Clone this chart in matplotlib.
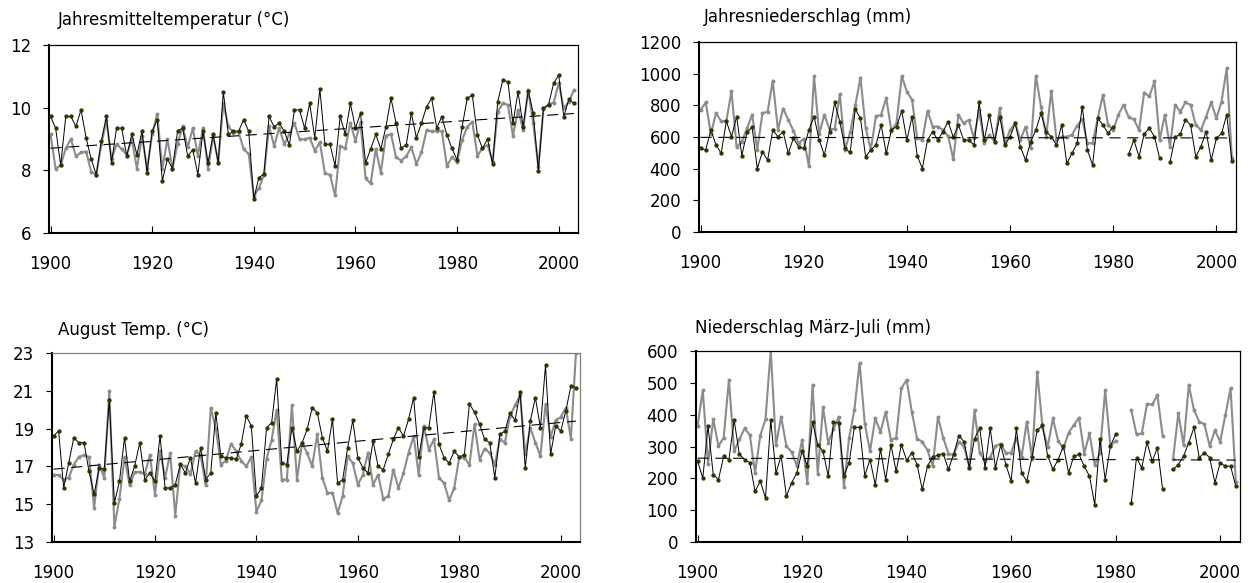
import numpy as np
import matplotlib
matplotlib.use("Agg")
import matplotlib.pyplot as plt

plt.rcParams['font.family'] = ['DejaVu Sans']

years = np.arange(1900, 2004)
nan = np.nan

# Jahresmitteltemperatur (°C)
temp_year_a = [9.72, 9.35, 8.16, 9.72, 9.72, 9.4, 9.93, 9.04, 8.36, 7.86, 8.94, 9.72, 8.24, 9.35, 9.35, 8.45, 9.15, 8.5, 9.25, 7.93,
               9.25, 9.61, 7.66, 8.36, 8.05, 9.25, 9.35, 8.45, 8.66, 7.86, 9.25, 8.24, 9.15, 8.24, 10.5, 9.15, 9.25, 9.25, 9.61, 9.25,
               7.09, 7.77, 7.88, 9.72, 9.39, 9.51, 9.25, 8.81, 9.93, 9.93, 9.35, 10.14, 9.04, 10.6, 8.83, 8.83, 8.14, 9.72, 9.15, 10.14,
               9.35, 9.82, 8.24, 8.68, 9.15, 8.68, 9.39, 10.3, 9.51, 8.71, 8.81, 9.82, 9.04, 9.51, 10.03, 10.3, 9.35, 9.71, 9.13, 8.7,
               8.33, 9.39, 10.3, 10.4, 9.13, 8.7, 9.0, 8.2, 10.19, 10.88, 10.83, 9.5, 10.51, 9.39, 10.54, 9.82, 7.99, 9.98, 10.09, 10.78,
               11.04, 9.71, 10.27, 10.14]
temp_year_b = [9.15, 8.05, 8.16, 8.7, 9.0, 8.45, 8.57, 8.6, 7.95, 7.86, 8.83, 9.6, 8.36, 8.83, 8.68, 8.5, 9.0, 8.05, 9.1, 8.05,
               9.15, 9.8, 8.05, 9.0, 8.05, 8.85, 9.4, 8.73, 9.35, 8.47, 9.35, 8.05, 9.1, 8.26, 10.14, 9.4, 9.2, 9.22, 8.68, 8.52,
               7.17, 7.43, 7.86, 9.4, 8.78, 9.35, 8.83, 9.15, 9.51, 8.99, 8.99, 9.04, 8.63, 8.89, 7.9, 7.86, 7.2, 8.78, 8.7, 9.51,
               8.94, 9.53, 7.74, 7.58, 8.68, 7.93, 9.11, 9.15, 8.42, 8.31, 8.45, 8.73, 8.21, 8.57, 9.28, 9.25, 9.25, 9.25, 8.14, 8.43,
               8.27, 8.97, 9.39, 9.55, 8.47, 8.7, 8.81, 8.27, 9.87, 10.14, 10.09, 9.1, 9.93, 9.29, 10.56, 9.5, 8.11, 9.95, 10.11, 10.16,
               10.78, 9.98, 10.19, 10.56]

# Jahresniederschlag (mm)
prec_year_a = [528, 518, 644, 549, 497, 700, 602, 729, 482, 630, 661, 401, 507, 454, 644, 602, 634, 497, 592, 539,
               528, 644, 729, 581, 486, 634, 818, 697, 528, 503, 775, 718, 475, 518, 549, 676, 497, 644, 666, 765,
               581, 729, 482, 401, 581, 634, 581, 634, 697, 598, 676, 581, 581, 549, 818, 581, 740, 570, 729, 549,
               602, 687, 539, 454, 570, 644, 750, 634, 602, 549, 676, 433, 497, 560, 792, 518, 423, 718, 676, 623,
               665, nan, nan, 492, 581, 475, 619, 655, 602, 465, nan, 440, 598, 619, 708, 676, 475, 539, 634, 454,
               592, 623, 740, 450]
prec_year_b = [771, 818, 620, 750, 700, 700, 890, 535, 570, 655, 740, 520, 750, 760, 955, 645, 780, 710, 640, 560,
               590, 415, 985, 620, 740, 650, 650, 870, 520, 630, 800, 975, 660, 520, 730, 740, 845, 640, 690, 985,
               887, 835, 592, 581, 765, 666, 666, 644, 606, 460, 740, 687, 708, 592, 771, 560, 613, 570, 782, 560,
               644, 687, 581, 666, 528, 987, 792, 602, 892, 581, 602, 602, 613, 672, 712, 560, 560, 718, 866, 676,
               644, 740, 803, 725, 712, 644, 881, 856, 951, 581, 740, 539, 803, 761, 818, 803, 676, 644, 729, 818,
               718, 824, 1035, 465]

# August Temp. (°C)
temp_aug_a = [18.61, 18.87, 15.86, 17.18, 18.52, 18.26, 18.26, 16.74, 15.52, 16.92, 16.84, 20.5, 15.06, 16.21, 18.52, 16.21, 17.02, 18.26, 16.3, 16.65,
              16.21, 18.61, 15.86, 15.86, 16.03, 17.11, 16.65, 17.46, 16.12, 18.0, 16.3, 16.65, 19.84, 17.53, 17.46, 17.46, 17.37, 18.17, 19.67, 19.14,
              15.42, 15.86, 19.05, 19.31, 21.62, 17.18, 17.1, 19.05, 17.81, 18.24, 18.96, 20.1, 19.84, 18.52, 17.81, 19.49, 16.12, 16.3, 18.0, 19.44,
              17.46, 16.92, 16.65, 18.34, 17.0, 16.83, 17.64, 18.43, 19.05, 18.61, 19.49, 20.64, 17.5, 19.05, 19.05, 20.94, 18.17, 17.46, 17.18, 17.8,
              17.5, 17.62, 20.3, 19.88, 19.23, 18.43, 18.26, 16.39, 18.7, 18.87, 19.84, 19.44, 20.94, 16.92, 19.4, 20.64, 19.05, 22.35, 17.64, 19.14,
              18.87, 19.93, 21.25, 21.17]
temp_aug_b = [16.56, 16.53, 16.3, 16.4, 17.1, 17.5, 17.6, 17.5, 14.8, 17.1, 16.4, 21.0, 13.8, 15.3, 17.5, 16.0, 16.7, 16.7, 16.6, 17.6,
              15.5, 17.8, 16.4, 17.7, 14.4, 17.1, 17.0, 16.6, 17.8, 17.6, 16.0, 20.1, 19.0, 17.1, 17.3, 18.2, 17.8, 17.3, 17.0, 17.5,
              14.6, 15.2, 17.4, 18.4, 20.0, 16.3, 16.3, 20.23, 16.3, 18.26, 17.7, 17.02, 18.7, 16.39, 15.6, 15.6, 14.53, 15.42, 17.53, 17.18,
              16.03, 16.56, 17.73, 16.03, 16.56, 15.29, 15.42, 16.83, 15.86, 16.65, 17.73, 18.61, 16.56, 19.14, 17.89, 18.43, 16.39, 16.12, 15.2, 15.86,
              17.5, 17.46, 17.09, 19.23, 17.36, 17.94, 17.71, 17.09, 18.43, 18.26, 19.67, 20.23, 20.76, 17.64, 19.05, 18.26, 17.55, 20.28, 18.56, 19.44,
              19.61, 20.1, 18.47, 23.0]

# Niederschlag März-Juli (mm)
prec_mj_a = [254, 201, 364, 212, 196, 270, 259, 383, 275, 259, 249, 159, 191, 138, 383, 217, 270, 144, 186, 217,
             285, 239, 376, 306, 285, 207, 376, 374, 208, 249, 360, 360, 208, 259, 180, 291, 196, 306, 222, 306,
             257, 280, 243, 165, 239, 267, 273, 278, 228, 276, 334, 315, 233, 325, 357, 233, 357, 233, 304, 243,
             191, 357, 217, 191, 267, 351, 367, 270, 228, 259, 301, 217, 270, 275, 238, 207, 117, 325, 196, 301,
             339, nan, nan, 123, 265, 233, 313, 254, 296, 165, nan, 228, 243, 270, 312, 360, 265, 281, 265, 186,
             249, 238, 238, 175]
prec_mj_b = [364, 477, 246, 386, 301, 328, 509, 285, 322, 357, 336, 217, 334, 386, 603, 304, 393, 301, 283, 239,
             320, 186, 493, 215, 423, 312, 354, 393, 173, 328, 414, 563, 372, 285, 388, 346, 409, 320, 328, 483,
             509, 409, 325, 315, 288, 239, 393, 328, 278, 273, 315, 299, 236, 414, 280, 254, 267, 301, 309, 280,
             280, 328, 267, 378, 262, 535, 362, 299, 388, 318, 294, 343, 367, 391, 278, 341, 243, 280, 477, 301,
             318, nan, nan, 414, 338, 341, 433, 432, 461, 333, nan, 262, 404, 304, 493, 414, 378, 370, 301, 351,
             315, 399, 483, 189]

W, H = 1254, 583
fig = plt.figure(figsize=(W / 100, H / 100), dpi=100)


def panel(l, r, t, b, a, g, title, ylim, yticks, tx, ty, trend_gaps=False, top_col='black'):
    ax = fig.add_axes([l / W, 1 - b / H, (r - l) / W, (b - t) / H])
    a = np.array(a, float)
    g = np.array(g, float)
    ax.plot(years, g, color='#8c8c8c', lw=1.5, marker='o', ms=1.8, zorder=2)
    ax.plot(years, a, color='black', lw=0.7, marker='o', ms=2.1,
            mfc='#333300', mec='#333300', zorder=3)
    ok = ~np.isnan(a)
    k, d = np.polyfit(years[ok], a[ok], 1)
    tr = k * years + d
    if trend_gaps:
        tr = np.where(ok, tr, np.nan)
    ax.plot(years, tr, color='black', lw=0.8, dashes=(10, 6), zorder=4)
    ax.set_xlim(1899.7, 2003.8)
    ax.set_ylim(*ylim)
    ax.set_xticks(range(1900, 2001, 20))
    ax.set_yticks(yticks)
    ax.tick_params(axis='x', direction='in', length=5, pad=16, labelsize=12)
    ax.tick_params(axis='y', direction='out', length=4, pad=9, labelsize=12)
    for s in ['left', 'bottom']:
        ax.spines[s].set_linewidth(1.5)
    for s in ['top', 'right']:
        ax.spines[s].set_linewidth(0.9)
        ax.spines[s].set_color(top_col)
    fig.text(tx / W, 1 - ty / H, title, fontsize=12, va='center', ha='left')
    return ax


panel(49, 578, 45, 233, temp_year_a, temp_year_b, 'Jahresmitteltemperatur (°C)',
      (6, 12), [6, 8, 10, 12], 58, 20)
panel(699, 1236, 42, 232, prec_year_a, prec_year_b, 'Jahresniederschlag (mm)',
      (0, 1200), range(0, 1201, 200), 704, 17)
panel(52, 580, 353, 542, temp_aug_a, temp_aug_b, 'August Temp. (°C)',
      (13, 23), range(13, 24, 2), 58, 330, top_col='#808080')
panel(696, 1240, 351, 542, prec_mj_a, prec_mj_b, 'Niederschlag März-Juli (mm)',
      (0, 600), range(0, 601, 100), 695, 328, trend_gaps=True)

fig.savefig('out.png', dpi=100)
